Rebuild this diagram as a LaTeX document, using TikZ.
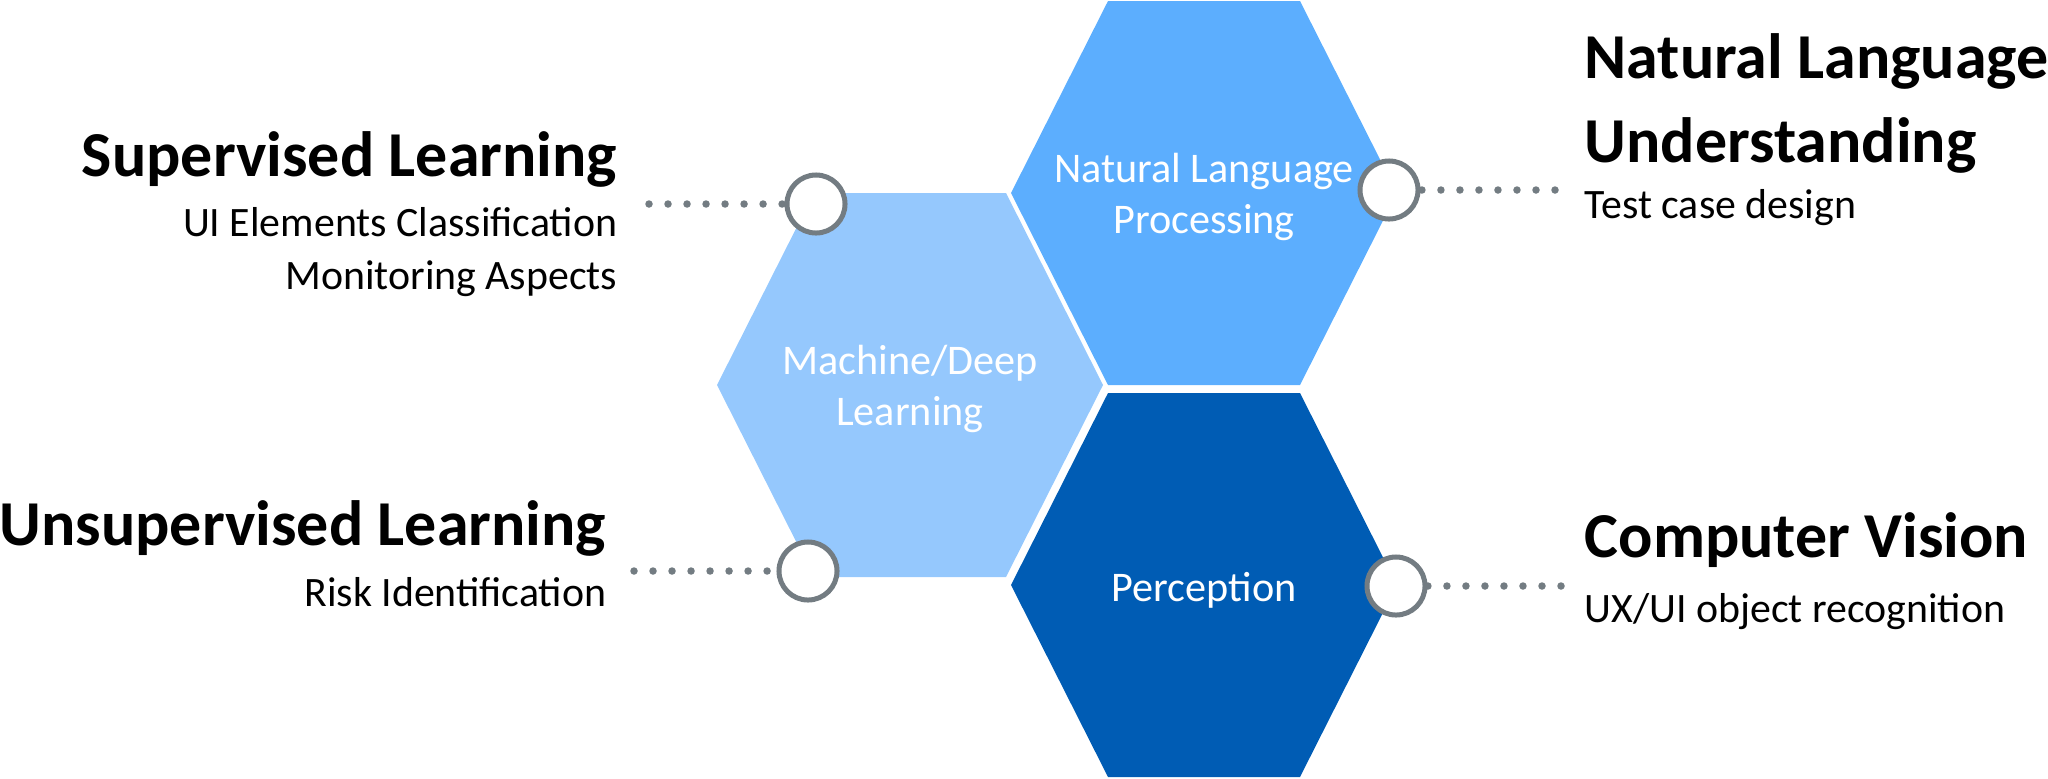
\documentclass[tikz,border=0pt]{standalone}
\usepackage{fontspec}
\setmainfont{Carlito}
\usetikzlibrary{positioning}

\definecolor{ml-blue}{RGB}{149,200,253}
\definecolor{nlp-blue}{RGB}{92,174,254}
\definecolor{pc-blue}{RGB}{0,92,180}
\definecolor{dot-gray}{RGB}{115,124,130}

\tikzstyle{hex-label}=[align=center,text=white,font=\fontsize{12}{14.6}\selectfont]
\tikzstyle{ring}=[circle,draw=dot-gray,line width=0.05cm,fill=white,minimum size=0.58cm,inner sep=0]
\tikzstyle{dots}=[draw=dot-gray,line width=0.075cm,line cap=round,dash pattern=on 0pt off 0.19cm]
\tikzstyle{head}=[inner sep=0,font=\fontsize{18.2}{22}\selectfont\bfseries]
\tikzstyle{sub}=[inner sep=0,font=\fontsize{11.9}{14}\selectfont]

\begin{document}
\begin{tikzpicture}[x=0.01cm,y=-0.01cm]
    \useasboundingbox (0,0) rectangle (2048,778);
    \foreach \cx/\cy/\col in {910/385/ml-blue, 1204/193/nlp-blue, 1204/585/pc-blue}
      \fill[\col,shift={(\cx,\cy)}] (-193,0) -- (-96,-192) -- (96,-192) -- (193,0) -- (96,192) -- (-96,192) -- cycle;
    \node[hex-label] (ml)  at (910,389)  {Machine/Deep\\Learning};
    \node[hex-label] (nlp) at (1204,197) {Natural Language\\Processing};
    \node[hex-label] (pc)  at (1204,590) {Perception};
    \node[ring] (sl-ring)  at (816,204)  {};
    \node[ring] (ul-ring)  at (808,571)  {};
    \node[ring] (nlu-ring) at (1389,190) {};
    \node[ring] (cv-ring)  at (1396,586) {};
    \node[head,anchor=base east] (sl)    at (618,176)  {Supervised Learning};
    \node[sub,anchor=base east]  (sl-a)  at (618,236)  {UI Elements Classification};
    \node[sub,anchor=base east]  (sl-b)  at (618,289)  {Monitoring Aspects};
    \node[head,anchor=base east] (ul)    at (607,545)  {Unsupervised Learning};
    \node[sub,anchor=base east]  (ul-a)  at (607,606)  {Risk Identification};
    \node[head,anchor=base west] (nlu)   at (1584,78)  {Natural Language};
    \node[head,anchor=base west] (nlu-b) at (1584,162) {Understanding};
    \node[sub,anchor=base west]  (nlu-a) at (1584,218) {Test case design};
    \node[head,anchor=base west] (cv)    at (1584,557) {Computer Vision};
    \node[sub,anchor=base west]  (cv-a)  at (1584,622) {UX/UI object recognition};
    \coordinate (sl-end)  at (649,204);
    \coordinate (ul-end)  at (634,571);
    \coordinate (nlu-end) at (1555,190);
    \coordinate (cv-end)  at (1561,586);
    \draw[dots] (sl-end)  -- (sl-ring);
    \draw[dots] (ul-end)  -- (ul-ring);
    \draw[dots] (nlu-end) -- (nlu-ring);
    \draw[dots] (cv-end)  -- (cv-ring);
  \end{tikzpicture}
\end{document}
